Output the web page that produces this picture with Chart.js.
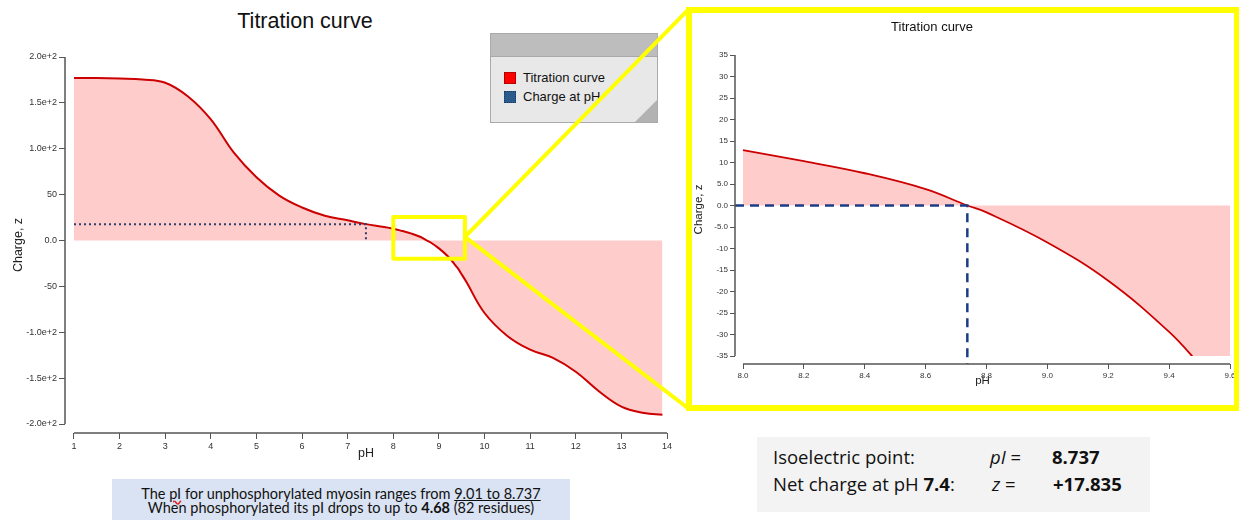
<!DOCTYPE html>
<html>
<head>
<meta charset="utf-8">
<script src="https://cdn.jsdelivr.net/npm/chart.js@4.4.0/dist/chart.umd.min.js"></script>
<style>
  body { margin: 0; width: 1239px; height: 520px; background: #fff; position: relative; overflow: hidden; font-family: 'Liberation Sans', Arial, sans-serif; }
  #mainTitle { position: absolute; left: 105px; top: 9px; width: 400px; text-align: center; font-size: 21.5px; line-height: 24px; color: #111; }
  #mainWrap { position: absolute; left: 0; top: 0; z-index: 2; }
  #legend { position: absolute; left: 490px; top: 33px; width: 166px; height: 88px; border: 1px solid #aaa; background: #e8e8e8; z-index: 1; }
  #legend .head { height: 22px; background: #bdbdbd; border-bottom: 1px solid #a9a9a9; }
  #legend .corner { position: absolute; right: 0; bottom: 0; width: 0; height: 0; border-left: 22px solid transparent; border-bottom: 22px solid #b2b2b2; }
  #legend .item { position: absolute; left: 13px; font-size: 13px; line-height: 14px; color: #111; }
  #legend .sw { display: inline-block; width: 12px; height: 12px; vertical-align: -2px; margin-right: 7px; }
  #zoomFrame { position: absolute; left: 686px; top: 7px; width: 554px; height: 404px; border: 6px solid #ffff00; box-sizing: border-box; background: #fff; overflow: hidden; z-index: 3; }
  #zoomTitle { position: absolute; left: 90px; top: 6px; width: 300px; text-align: center; font-size: 13px; color: #111; }
  #zoomCanvas { position: absolute; left: 0; top: 0; }
  #note { position: absolute; left: 112px; top: 479px; width: 458px; height: 45px; background: #dae3f3; text-align: center; font-family: Lato, 'Open Sans', sans-serif; font-size: 14.5px; line-height: 14px; color: #111; padding-top: 8px; box-sizing: border-box; white-space: nowrap; }
  #note .sq { text-decoration: underline wavy #e02020; }
  #note .ul { text-decoration: underline; }
  #result { position: absolute; left: 757px; top: 437px; width: 393px; height: 75px; background: #f3f3f3; font-family: 'Open Sans', 'Noto Sans', sans-serif; font-size: 18.5px; line-height: 20px; color: #111; }
  #result span { position: absolute; white-space: nowrap; }
</style>
</head>
<body>
<div id="mainTitle">Titration curve</div>
<div id="legend">
  <div class="head"></div>
  <div class="item" style="top:37px"><span class="sw" style="background:#ff0000;border:1px solid #b00000;box-sizing:border-box"></span>Titration curve</div>
  <div class="item" style="top:56px"><span class="sw" style="background:#2b5a8c;border:1px dotted #1a3a66;box-sizing:border-box"></span>Charge at pH</div>
  <div class="corner"></div>
</div>
<div id="mainWrap"><canvas id="mainChart" width="690" height="470"></canvas></div>
<div id="zoomFrame">
  <canvas id="zoomCanvas" width="560" height="392"></canvas>
  <div id="zoomTitle">Titration curve</div>
</div>
<div id="note">The <span class="sq">pI</span> for unphosphorylated myosin ranges from <span class="ul">9.01 to 8.737</span><br>When phosphorylated its pI drops to up to <b>4.68</b> (82 residues)</div>
<div id="result">
  <span style="left:16px;top:10px">Isoelectric point:</span>
  <span style="left:233px;top:10px"><i>pI</i> =</span>
  <span style="left:295px;top:10px"><b>8.737</b></span>
  <span style="left:16px;top:37px">Net charge at pH <b>7.4</b>:</span>
  <span style="left:235px;top:37px"><i>z</i> =</span>
  <span style="left:296px;top:37px"><b>+17.835</b></span>
</div>
<script>
// titration curve
const phValues = [1, 1.5, 2, 2.5, 3, 3.5, 4, 4.5, 5, 5.5, 6, 6.5, 7, 7.4, 7.8, 8.0, 8.2, 8.4, 8.6, 8.737, 8.8, 9.0, 9.2, 9.4, 9.5, 9.6, 10, 10.5, 11, 11.5, 12, 12.5, 13, 13.5, 13.9];
const chargeValues = [177, 177, 176.5, 175.5, 172, 157, 132, 96, 69, 49, 36, 27, 22, 17.835, 14.8, 12.9, 10.3, 7.5, 3.8, 0, -1.6, -8.6, -17.5, -29.4, -37, -45, -79, -104, -119, -128, -143, -164, -181, -188, -190];

const pI = 8.737;
const refPh = 7.4;
const refCharge = 17.835;

// tick labels
const mainXTicks = [1, 2, 3, 4, 5, 6, 7, 8, 9, 10, 11, 12, 13, 14];
const mainYTicks = [200, 150, 100, 50, 0, -50, -100, -150, -200];
const mainYLabels = ['2.0e+2', '1.5e+2', '1.0e+2', '50', '0.0', '-50', '-1.0e+2', '-1.5e+2', '-2.0e+2'];
const zoomXTicks = [8.0, 8.2, 8.4, 8.6, 8.8, 9.0, 9.2, 9.4, 9.6];
const zoomXLabels = ['8.0', '8.2', '8.4', '8.6', '8.8', '9.0', '9.2', '9.4', '9.6'];
const zoomYTicks = [35, 30, 25, 20, 15, 10, 5, 0, -5, -10, -15, -20, -25, -30, -35];
const zoomYLabels = ['35', '30', '25', '20', '15', '10', '5.0', '0.0', '-5.0', '-10', '-15', '-20', '-25', '-30', '-35'];

// region of the main chart shown in the inset
const zoomBox = { phFrom: 8.0, phTo: 9.57, zTop: 25.6, zBottom: -20, zJoin: 4 };

const curve = phValues.map((p, i) => ({ x: p, y: chargeValues[i] }));
const zoomCurve = curve.filter(p => p.x >= zoomXTicks[0]);

function fixedScale(values, labels, min, max, size, fontSize, title, titlePad) {
    return {
        type: 'linear',
        min: min,
        max: max,
        afterBuildTicks: s => { s.ticks = values.map(v => ({ value: v })); },
        afterFit: s => {
            if (s.isHorizontal()) s.height = size; else s.width = size;
            s.paddingLeft = 0; s.paddingRight = 0; s.paddingTop = 0; s.paddingBottom = 0;
        },
        border: { display: false },
        grid: { drawOnChartArea: false, drawTicks: true, tickLength: fontSize < 9 ? 5 : 6, color: '#555', lineWidth: 1 },
        ticks: {
            autoSkip: false,
            maxRotation: 0,
            padding: 2,
            color: '#333',
            font: { family: 'Liberation Sans', size: fontSize },
            callback: v => labels[values.indexOf(v)] ?? ''
        },
        title: { display: true, text: title, color: '#222', font: { family: 'Liberation Sans', size: fontSize + 3.5 }, padding: titlePad }
    };
}

const axisLines = {
    id: 'axisLines',
    afterDraw(chart, args, opts) {
        const { ctx, chartArea, scales: { x, y } } = chart;
        ctx.save();
        ctx.strokeStyle = '#555';
        ctx.lineWidth = 1.5;
        ctx.beginPath();
        ctx.moveTo(chartArea.left, y.getPixelForValue(opts.yFrom));
        ctx.lineTo(chartArea.left, y.getPixelForValue(opts.yTo));
        ctx.moveTo(x.getPixelForValue(opts.xFrom), chartArea.bottom);
        ctx.lineTo(x.getPixelForValue(opts.xTo), chartArea.bottom);
        ctx.stroke();
        ctx.restore();
    }
};

// inset: curve and its fill stop at the lowest tick, the dashed line goes on to the axis
const clipCurve = {
    id: 'clipCurve',
    beforeDatasetsDraw(chart, args, opts) {
        const { ctx, chartArea, scales: { y } } = chart;
        ctx.save();
        ctx.beginPath();
        ctx.rect(chartArea.left, chartArea.top, chartArea.width, y.getPixelForValue(opts.floor) - chartArea.top);
        ctx.clip();
    },
    afterDatasetDraw(chart, args) {
        if (args.index === 0) chart.ctx.restore();
    }
};

const zoomMarker = {
    id: 'zoomMarker',
    afterDraw(chart, args, opts) {
        const { ctx, scales: { x, y } } = chart;
        const l = x.getPixelForValue(zoomBox.phFrom), r = x.getPixelForValue(zoomBox.phTo);
        const t = y.getPixelForValue(zoomBox.zTop), b = y.getPixelForValue(zoomBox.zBottom);
        const j = y.getPixelForValue(zoomBox.zJoin);
        ctx.save();
        ctx.strokeStyle = '#ffff00';
        ctx.lineWidth = 4;
        ctx.lineJoin = 'round';
        ctx.strokeRect(l, t, r - l, b - t);
        ctx.beginPath();
        ctx.moveTo(opts.endX, opts.topY);
        ctx.lineTo(r, j);
        ctx.lineTo(opts.endX, opts.bottomY);
        ctx.stroke();
        ctx.restore();
    }
};

const curveStyle = {
    label: 'Titration curve',
    data: curve,
    borderColor: '#cc0000',
    borderWidth: 2,
    backgroundColor: '#ffcccc',
    fill: 'origin',
    pointRadius: 0,
    tension: 0.4,
    order: 1
};

new Chart(document.getElementById('mainChart'), {
    type: 'line',
    data: {
        datasets: [
            curveStyle,
            {
                label: 'Charge at pH',
                data: [{ x: 1, y: refCharge }, { x: refPh, y: refCharge }, { x: refPh, y: 0 }],
                borderColor: '#2b3f6b',
                borderWidth: 2,
                borderDash: [2, 3],
                fill: false,
                pointRadius: 0,
                tension: 0,
                order: 0
            }
        ]
    },
    options: {
        responsive: false,
        animation: false,
        layout: { padding: { top: 57, right: 23, left: 0, bottom: 0 } },
        scales: {
            x: fixedScale(mainXTicks, mainXTicks.map(String), 0.8027, 14, 37, 9, 'pH', { top: 9, bottom: 9 }),
            y: fixedScale(mainYTicks, mainYLabels, -209.8, 200, 65, 9, 'Charge, z', { top: 11, bottom: 11 })
        },
        plugins: {
            legend: { display: false },
            tooltip: { enabled: false },
            axisLines: { xFrom: 1, xTo: 14, yFrom: 200, yTo: -200 },
            zoomMarker: { endX: 689, topY: 9, bottomY: 409 }
        }
    },
    plugins: [axisLines, zoomMarker]
});

new Chart(document.getElementById('zoomCanvas'), {
    type: 'line',
    data: {
        datasets: [
            Object.assign({}, curveStyle, { data: zoomCurve, borderWidth: 1.8 }),
            {
                label: 'Charge at pH',
                data: [{ x: 7.9737, y: 0 }, { x: pI, y: 0 }, { x: pI, y: -36.86 }],
                borderColor: '#1c3d85',
                borderWidth: 2.5,
                borderDash: [9, 6],
                fill: false,
                pointRadius: 0,
                tension: 0,
                order: 0
            }
        ]
    },
    options: {
        responsive: false,
        animation: false,
        layout: { padding: { top: 42, right: 22, left: 0, bottom: 0 } },
        scales: {
            x: fixedScale(zoomXTicks, zoomXLabels, 7.9737, 9.6, 41, 8, 'pH', { top: 17, bottom: 17 }),
            y: fixedScale(zoomYTicks, zoomYLabels, -36.86, 35, 43, 8, 'Charge, z', { top: 0, bottom: 0 })
        },
        plugins: {
            legend: { display: false },
            tooltip: { enabled: false },
            axisLines: { xFrom: 8.0, xTo: 9.6, yFrom: 35, yTo: -35 },
            clipCurve: { floor: -35 }
        }
    },
    plugins: [axisLines, clipCurve]
});
</script>
</body>
</html>
